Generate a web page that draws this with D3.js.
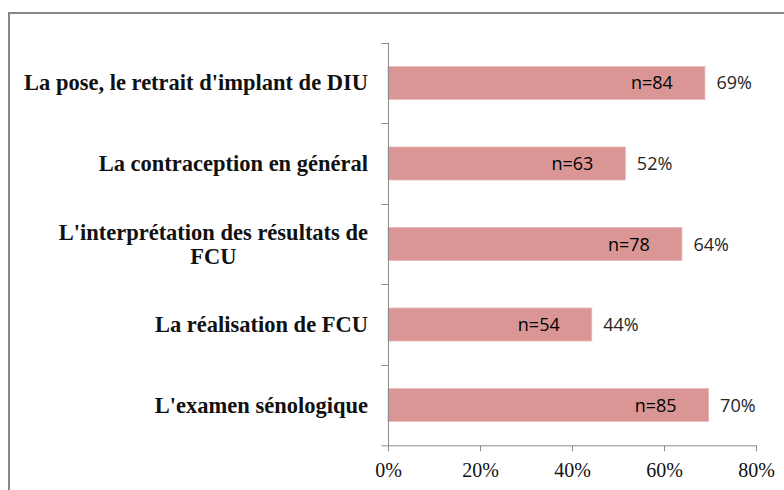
<!DOCTYPE html>
<html>
<head>
<meta charset="utf-8">
<script src="https://cdn.jsdelivr.net/npm/d3@7"></script>
<style>
  html, body { margin: 0; padding: 0; background: #fff; }
</style>
</head>
<body>
<div id="chart"></div>
<script>
const categories = [
    "La pose, le retrait d'implant de DIU",
    "La contraception en général",
    "L'interprétation des résultats de|FCU",
    "La réalisation de FCU",
    "L'examen sénologique"
];
const percents = [0.689, 0.516, 0.639, 0.443, 0.697];
const counts = [84, 63, 78, 54, 85];
const pctLabels = ["69%", "52%", "64%", "44%", "70%"];
const xTicks = [0, 0.2, 0.4, 0.6, 0.8];

const w = 784,
      h = 490;

const plot = {left: 388, right: 756, top: 42.7, bottom: 445.3};

const svg = d3.select("#chart")
    .append("svg")
    .attr("width", w)
    .attr("height", h);

// outer frame (cut at right and bottom like the screenshot)
svg.append("rect")
    .attr("x", 9)
    .attr("y", 13)
    .attr("width", w + 20)
    .attr("height", h + 20)
    .style("fill", "none")
    .style("stroke", "#878787")
    .style("stroke-width", 2);

let x = d3.scaleLinear()
    .domain([0, 0.8])
    .range([plot.left, plot.right]);

let y = d3.scaleBand()
    .domain(categories)
    .range([plot.top, plot.bottom])
    .paddingInner(0.59)
    .paddingOuter(0.295);

// bars
svg.selectAll("rect.bar")
    .data(categories)
    .enter()
    .append("rect")
    .attr("class", "bar")
    .attr("x", x(0))
    .attr("y", d => y(d))
    .attr("width", (d, i) => x(percents[i]) - x(0))
    .attr("height", y.bandwidth())
    .style("fill", "#d99694")
    .style("stroke", "#e9b8b7")
    .style("stroke-width", 0.8);

// x axis
let xAxis = d3.axisBottom(x)
    .tickValues(xTicks)
    .tickSize(6)
    .tickSizeOuter(0)
    .tickFormat(d3.format(".0%"));

let xAxisGroup = svg.append("g")
    .attr("class", "x-axis")
    .attr("transform", "translate(0," + plot.bottom + ")")
    .call(xAxis);

xAxisGroup.select(".domain")
    .attr("d", "M" + (plot.left - 6.5) + ",0.5H" + (plot.right + 0.5))
    .style("stroke", "#8c8c8c");
xAxisGroup.selectAll(".tick line").style("stroke", "#8c8c8c");
xAxisGroup.selectAll(".tick text")
    .attr("y", 31.5)
    .attr("dy", null)
    .style("font-family", "'Liberation Serif', 'Times New Roman', serif")
    .style("font-size", "20px")
    .style("fill", "#111");

// y axis line and category boundary ticks
let step = y.step();
let boundaries = d3.range(categories.length + 1).map(i => plot.top + i * step);

svg.append("line")
    .attr("x1", plot.left + 0.5)
    .attr("x2", plot.left + 0.5)
    .attr("y1", plot.top)
    .attr("y2", plot.bottom)
    .style("stroke", "#8c8c8c");

svg.selectAll("line.ytick")
    .data(boundaries.slice(0, -1))
    .enter()
    .append("line")
    .attr("class", "ytick")
    .attr("x1", plot.left - 6.5)
    .attr("x2", plot.left)
    .attr("y1", d => Math.round(d) + 0.5)
    .attr("y2", d => Math.round(d) + 0.5)
    .style("stroke", "#8c8c8c");

// category labels
const labelRight = 368;
categories.forEach((c, i) => {
    let lines = c.split("|");
    let cy = y(c) + y.bandwidth() / 2;
    let lineH = 24;
    let g = svg.append("text")
        .style("font-family", "'Liberation Serif', 'Times New Roman', serif")
        .style("font-weight", "bold")
        .style("font-size", "22.5px")
        .style("fill", "#111");
    lines.forEach((l, j) => {
        g.append("tspan")
            .attr("y", cy + 7.5 + (j - (lines.length - 1) / 2) * lineH)
            .text(l);
    });
    if (lines.length === 1) {
        g.attr("text-anchor", "end");
        g.selectAll("tspan").attr("x", labelRight);
    } else {
        let maxW = d3.max(g.selectAll("tspan").nodes(), n => n.getComputedTextLength());
        g.attr("text-anchor", "middle");
        g.selectAll("tspan").attr("x", labelRight - maxW / 2);
    }
});

// n= labels inside bars
svg.selectAll("text.nlab")
    .data(categories)
    .enter()
    .append("text")
    .attr("class", "nlab")
    .attr("x", (d, i) => x(percents[i]) - 53)
    .attr("y", d => y(d) + y.bandwidth() / 2 + 6.5)
    .attr("text-anchor", "middle")
    .style("font-family", "'Open Sans', sans-serif")
    .style("font-size", "18px")
    .style("fill", "#000")
    .text((d, i) => "n=" + counts[i]);

// percentage labels
svg.selectAll("text.plab")
    .data(categories)
    .enter()
    .append("text")
    .attr("class", "plab")
    .attr("x", (d, i) => x(percents[i]) + 11.5)
    .attr("y", d => y(d) + y.bandwidth() / 2 + 6.5)
    .style("font-family", "'Open Sans', sans-serif")
    .style("font-size", "18px")
    .style("fill", "#262626")
    .text((d, i) => pctLabels[i]);
</script>
</body>
</html>
